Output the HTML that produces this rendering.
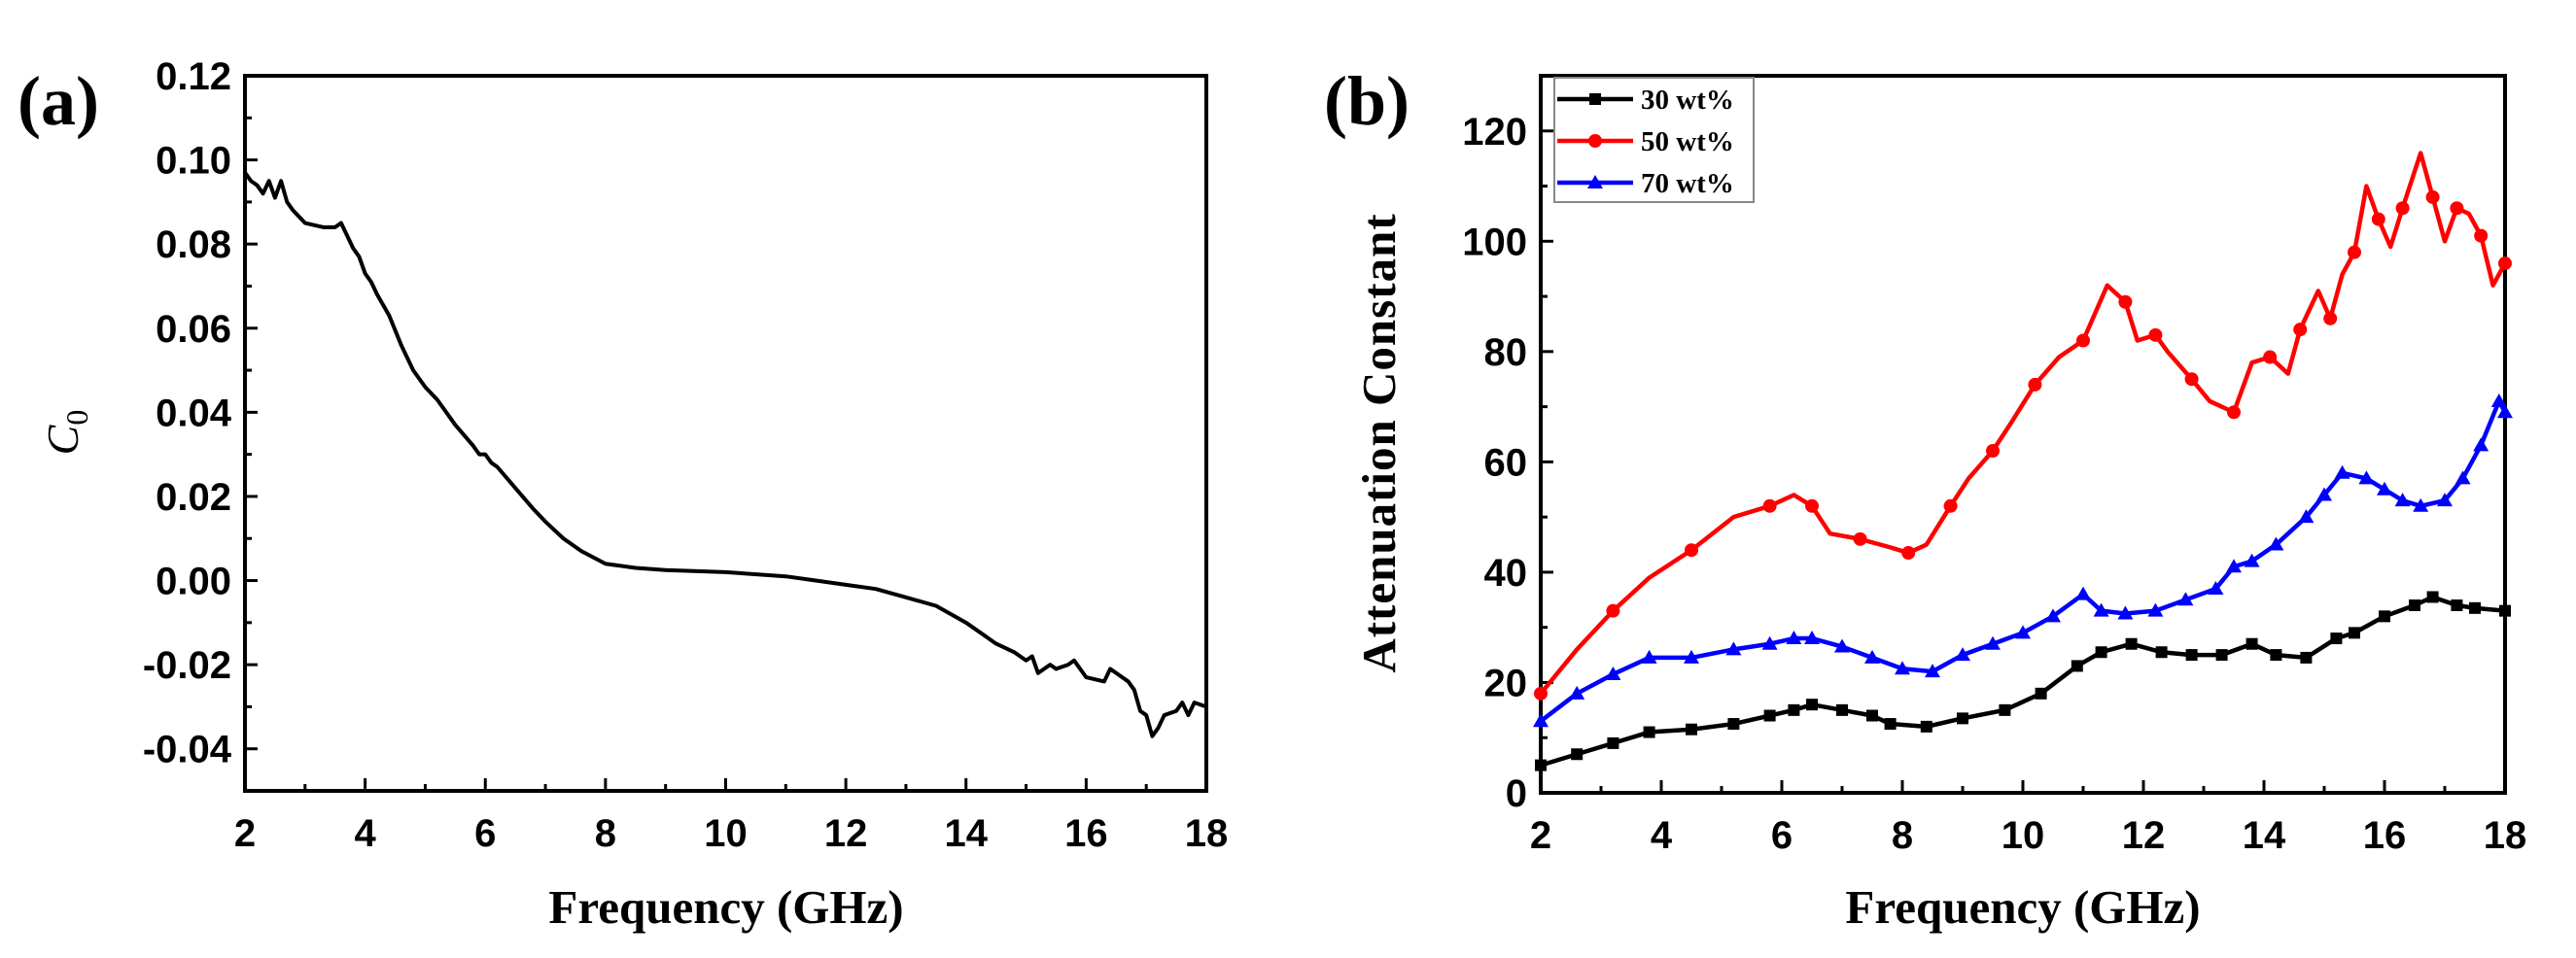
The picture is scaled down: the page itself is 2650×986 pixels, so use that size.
<!DOCTYPE html>
<html><head><meta charset="utf-8"><style>
html,body{margin:0;padding:0;background:#fff;}
svg{display:block;}
.tk{font-family:"Liberation Sans",Arial,sans-serif;font-weight:bold;font-size:40px;fill:#000;}
.ttl{font-family:"Liberation Serif",serif;font-weight:bold;font-size:49px;fill:#000;}
.lg{font-family:"Liberation Serif",serif;font-weight:bold;font-size:29px;fill:#000;}
</style></head><body>
<svg id="fig" width="2650" height="986" viewBox="0 0 2650 986" xmlns="http://www.w3.org/2000/svg">
<text x="18" y="128" class="ttl" style="font-size:72px">(a)</text>
<text x="1362" y="128" class="ttl" style="font-size:72px">(b)</text>
<text x="747" y="950" text-anchor="middle" class="ttl">Frequency (GHz)</text>
<text x="2081" y="950" text-anchor="middle" class="ttl">Frequency (GHz)</text>
<text transform="translate(80,445) rotate(-90)" text-anchor="middle" style="font-family:'Liberation Serif',serif;font-style:italic;font-size:46px">C<tspan dy="10" font-size="32" font-style="normal">0</tspan></text>
<text transform="translate(1435,456) rotate(-90)" text-anchor="middle" class="ttl" style="letter-spacing:1px">Attenuation Constant</text>
<g id="ga"></g>
<g id="gb"></g>
</svg>
<script>
const aX=[2,2.1,2.2,2.3,2.4,2.5,2.6,2.7,2.8,3.0,3.3,3.5,3.6,3.7,3.8,3.9,4.0,4.1,4.2,4.4,4.6,4.8,5.0,5.2,5.5,5.8,5.9,6.0,6.1,6.2,6.5,6.8,7.0,7.3,7.6,8.0,8.5,9,10,11,11.5,12,12.5,13,13.5,14,14.5,14.8,15,15.1,15.2,15.4,15.5,15.7,15.8,16,16.3,16.4,16.5,16.7,16.8,16.9,17.0,17.1,17.2,17.3,17.5,17.6,17.7,17.8,18.0];
const aY=[0.097,0.095,0.094,0.092,0.095,0.091,0.095,0.090,0.088,0.085,0.084,0.084,0.085,0.082,0.079,0.077,0.073,0.071,0.068,0.063,0.056,0.050,0.046,0.043,0.037,0.032,0.030,0.030,0.028,0.027,0.022,0.017,0.014,0.010,0.007,0.004,0.003,0.0025,0.002,0.001,0.0,-0.001,-0.002,-0.004,-0.006,-0.010,-0.015,-0.017,-0.019,-0.018,-0.022,-0.020,-0.021,-0.020,-0.019,-0.023,-0.024,-0.021,-0.022,-0.024,-0.026,-0.031,-0.032,-0.037,-0.035,-0.032,-0.031,-0.029,-0.032,-0.029,-0.030];
const aYTicks=["0.12","0.10","0.08","0.06","0.04","0.02","0.00","-0.02","-0.04"];
const xTicks=[2,4,6,8,10,12,14,16,18];
const bX30=[2,2.6,3.2,3.8,4.5,5.2,5.8,6.2,6.5,7,7.5,7.8,8.4,9,9.7,10.3,10.9,11.3,11.8,12.3,12.8,13.3,13.8,14.2,14.7,15.2,15.5,16,16.5,16.8,17.2,17.5,18];
const bY30=[5,7,9,11,11.5,12.5,14,15,16,15,14,12.5,12,13.5,15,18,23,25.5,27,25.5,25,25,27,25,24.5,28,29,32,34,35.5,34,33.5,33];
const bX50=[2,2.6,3.2,3.8,4.5,5.2,5.8,6.2,6.5,6.8,7.3,7.8,8.1,8.4,8.8,9.1,9.5,9.8,10.2,10.6,11.0,11.4,11.7,11.9,12.2,12.4,12.8,13.1,13.5,13.8,14.1,14.4,14.6,14.9,15.1,15.3,15.5,15.7,15.9,16.1,16.3,16.6,16.8,17.0,17.2,17.4,17.6,17.8,18.0];
const bY50=[18,26,33,39,44,50,52,54,52,47,46,44.5,43.5,45,52,57,62,67,74,79,82,92,89,82,83,80,75,71,69,78,79,76,84,91,86,94,98,110,104,99,106,116,108,100,106,105,101,92,96];
const bX70=[2,2.6,3.2,3.8,4.5,5.2,5.8,6.2,6.5,7,7.5,8,8.5,9,9.5,10,10.5,11,11.3,11.7,12.2,12.7,13.2,13.5,13.8,14.2,14.7,15,15.3,15.7,16,16.3,16.6,17,17.3,17.6,17.9,18];
const bY70=[13,18,21.5,24.5,24.5,26,27,28,28,26.5,24.5,22.5,22,25,27,29,32,36,33,32.5,33,35,37,41,42,45,50,54,58,57,55,53,52,53,57,63,71,69];
const bYTicks=[0,20,40,60,80,100,120];
const legendLabels=["30 wt%","50 wt%","70 wt%"];
const NS="http://www.w3.org/2000/svg";
function mk(p,t,a){const e=document.createElementNS(NS,t);for(const k in a)e.setAttribute(k,a[k]);p.appendChild(e);return e;}
function frame(g,L,R,T,B,xs,ymin,ymax,yvals,ylabels,minorY){
  const sx=v=>L+(v-2)/16*(R-L), sy=v=>B-(v-ymin)/(ymax-ymin)*(B-T);
  xs.forEach(v=>{const l=mk(g,'line',{x1:sx(v),x2:sx(v),y1:B,y2:B-13,stroke:'#000','stroke-width':3});
    
    
    const m=mk(g,'line',{x1:sx(v+1),x2:sx(v+1),y1:B,y2:B-7,stroke:'#000','stroke-width':3});
    if(v===18)m.remove();
    const t=mk(g,'text',{x:sx(v),y:B+57,'text-anchor':'middle',class:'tk'});t.textContent=v;
    
    });
  yvals.forEach((v,i)=>{const l=mk(g,'line',{x1:L,x2:L+13,y1:sy(v),y2:sy(v),stroke:'#000','stroke-width':3});
    
    
    const m=mk(g,'line',{x1:L,x2:L+7,y1:sy(v+minorY),y2:sy(v+minorY),stroke:'#000','stroke-width':3});
    if(v+minorY>ymax)m.remove();
    const t=mk(g,'text',{x:L-14,y:sy(v)+14,'text-anchor':'end',class:'tk'});t.textContent=ylabels[i];
    
    });
  const m0=mk(g,'line',{x1:L,x2:L+7,y1:sy(yvals[yvals.length-1]-minorY),y2:sy(yvals[yvals.length-1]-minorY),stroke:'#000','stroke-width':3});
  if(yvals[yvals.length-1]-minorY<ymin)m0.remove();
  const r=mk(g,'rect',{x:L,y:T,width:R-L,height:B-T,fill:'none',stroke:'#000','stroke-width':4});
  
  
  return [sx,sy];
}
function line(g,xs,ys,sx,sy,col,w){const p=mk(g,'polyline',{points:xs.map((x,i)=>sx(x)+','+sy(ys[i])).join(' '),fill:'none',stroke:col,'stroke-width':w,'stroke-linejoin':'round'});return p;}
function marker(g,type,x,y,col){
  if(type==='sq')return mk(g,'rect',{x:x-6,y:y-6,width:12,height:12,fill:col});
  if(type==='ci')return mk(g,'circle',{cx:x,cy:y,r:7,fill:col});
  return mk(g,'polygon',{points:`${x},${y-8} ${x+8},${y+6} ${x-8},${y+6}`,fill:col});
}
const ga=document.getElementById('ga');
const aVals=aYTicks.map(Number);
let [sxa,sya]=frame(ga,252,1241,78,814,xTicks,-0.05,0.12,aVals,aYTicks,0.01);
const la=line(ga,aX,aY,sxa,sya,'#000',4);


const gb=document.getElementById('gb');
let [sxb,syb]=frame(gb,1585,2577,78,816,xTicks,0,130,bYTicks,bYTicks.map(String),10);
const series=[[bX30,bY30,'#000','sq','series-30wt'],[bX50,bY50,'#f00','ci','series-50wt'],[bX70,bY70,'#00f','tr','series-70wt']];
series.forEach(s=>{const l=line(gb,s[0],s[1],sxb,syb,s[2],4.5);
  
  
  s[0].forEach((x,i)=>{if(i%2===0||s[0].length<40){const m=marker(gb,s[3],sxb(x),syb(s[1][i]),s[2]);
    
    }});});
const lgBox=mk(gb,'rect',{x:1599,y:80,width:205,height:128,fill:'#fff',stroke:'#888','stroke-width':2});


series.forEach((s,i)=>{const y=102+i*43;
  const l=mk(gb,'line',{x1:1602,x2:1680,y1:y,y2:y,stroke:s[2],'stroke-width':4.5});
  
  
  marker(gb,s[3],1641,y,s[2]);
  const t=mk(gb,'text',{x:1688,y:y+10,class:'lg'});t.textContent=legendLabels[i];
  
  });
</script>
</body></html>
